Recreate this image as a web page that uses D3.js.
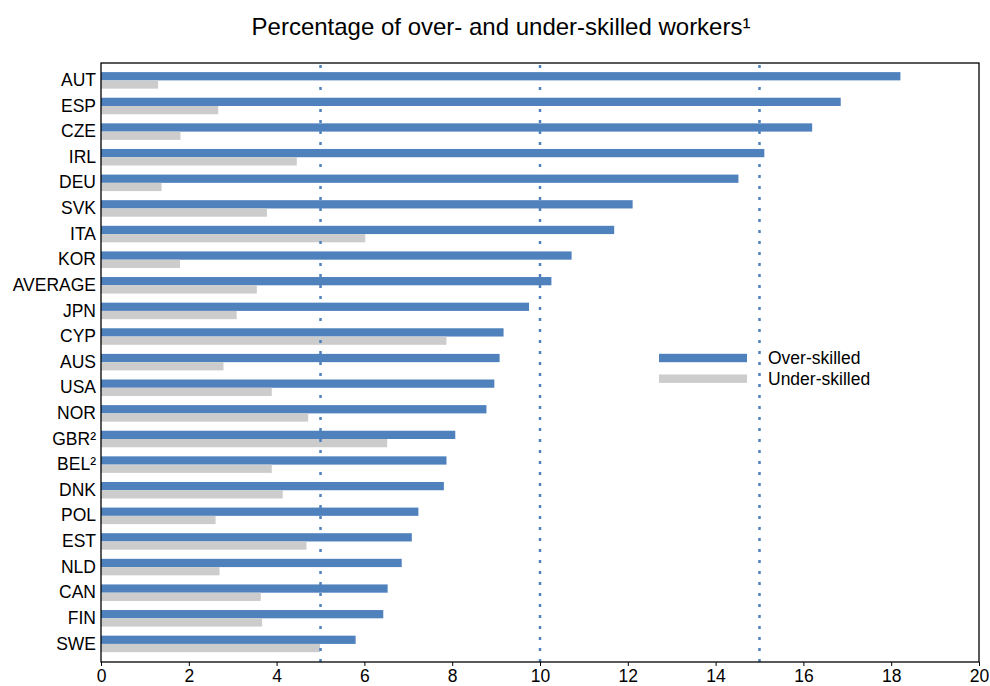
<!DOCTYPE html>
<html>
<head>
<meta charset="utf-8">
<script src="https://cdn.jsdelivr.net/npm/d3@7"></script>
<style>
  body { margin: 0; background: #fff; }
  svg text { font-family: "Liberation Sans", Arial, sans-serif; fill: #000; }
</style>
</head>
<body>
<svg id="chart" width="990" height="686"></svg>
<script>
const categories = ["AUT","ESP","CZE","IRL","DEU","SVK","ITA","KOR","AVERAGE","JPN","CYP","AUS","USA","NOR","GBR²","BEL²","DNK","POL","EST","NLD","CAN","FIN","SWE"];
const overSkilled = [18.21,16.85,16.2,15.11,14.52,12.11,11.69,10.72,10.26,9.75,9.17,9.08,8.96,8.78,8.07,7.87,7.81,7.23,7.08,6.85,6.53,6.43,5.80];
const underSkilled = [1.30,2.67,1.81,4.46,1.38,3.78,6.02,1.80,3.55,3.09,7.87,2.79,3.89,4.72,6.52,3.89,4.14,2.61,4.68,2.70,3.64,3.67,4.99];
const xTicks = [0,2,4,6,8,10,12,14,16,18,20];
const gridValues = [5,10,15];
const seriesNames = ["Over-skilled","Under-skilled"];
const colors = ["#4f81bd","#cccccc"];
const title = "Percentage of over- and under-skilled workers¹";

const svg = d3.select("#chart");
const L = 101, R = 979, T = 63, B = 662;
const FS = "17.5px";

const x = d3.scaleLinear().domain([0,20]).range([L,R]);
const y = d3.scaleBand().domain(categories).range([67.5,656.8]).paddingInner(0.355).paddingOuter(0.18);
const sub = d3.scaleBand().domain([0,1]).range([0,y.bandwidth()]);

svg.append("text").attr("x", 501).attr("y", 35).attr("text-anchor","middle")
  .style("font-size","24px").text(title);

// bars
const rows = categories.map((c,i)=>({c, vals:[overSkilled[i], underSkilled[i]]}));
const g = svg.append("g");
rows.forEach(r=>{
  r.vals.forEach((v,j)=>{
    g.append("rect")
      .attr("x", x(0)).attr("y", y(r.c)+sub(j))
      .attr("width", x(v)-x(0)).attr("height", sub.bandwidth())
      .attr("fill", colors[j]);
  });
});

// grid lines
svg.append("g").selectAll("line").data(gridValues).join("line")
  .attr("x1", d=>x(d)).attr("x2", d=>x(d))
  .attr("y1", T+2).attr("y2", B)
  .attr("stroke", "#4f81bd").attr("stroke-width", 2.5)
  .attr("stroke-dasharray", "3,8");

// frame
svg.append("rect").attr("x", L).attr("y", T).attr("width", R-L).attr("height", B-T)
  .attr("fill","none").attr("stroke","#000").attr("stroke-width",1.3);

// x axis
const xAxis = svg.append("g").attr("transform", `translate(0,${B})`)
  .call(d3.axisBottom(x).tickValues(xTicks).tickSize(4).tickSizeOuter(0).tickPadding(4));
xAxis.select(".domain").remove();
xAxis.selectAll("text").style("font-size",FS).style("font-family","Liberation Sans, Arial, sans-serif");

// y axis labels
const yAxis = svg.append("g").attr("transform", `translate(${L},0)`)
  .call(d3.axisLeft(y).tickSize(0).tickPadding(5));
yAxis.select(".domain").remove();
yAxis.selectAll("text").style("font-size",FS).style("font-family","Liberation Sans, Arial, sans-serif");

// legend
const lg = svg.append("g");
seriesNames.forEach((s,i)=>{
  const yy = 358 + i*20.7;
  lg.append("rect").attr("x",659).attr("y",yy-4.2).attr("width",88).attr("height",8.4).attr("fill",colors[i]);
  lg.append("text").attr("x",768).attr("y",yy+6).style("font-size",FS).text(s);
});
</script>
</body>
</html>
